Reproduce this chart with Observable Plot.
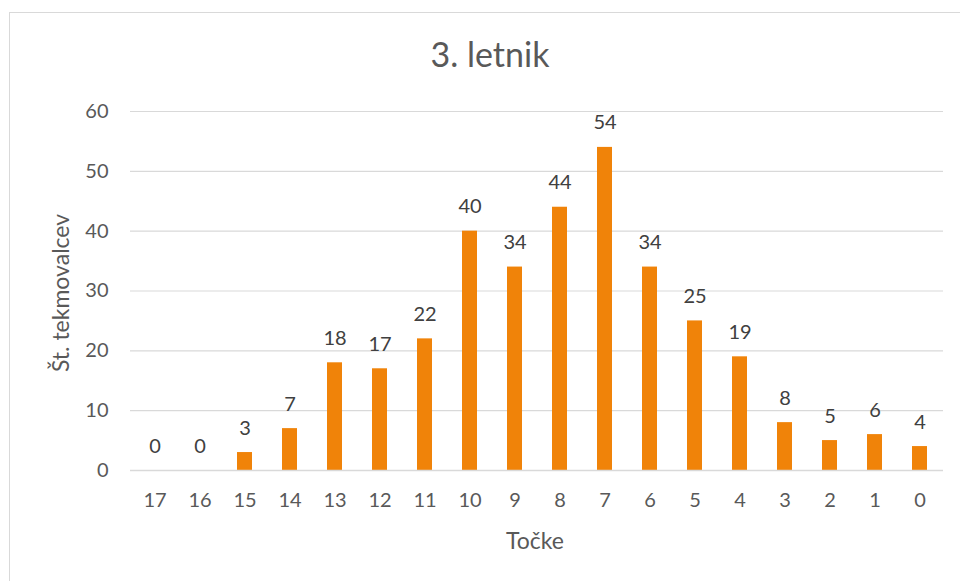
<!DOCTYPE html>
<html>
<head>
<meta charset="utf-8">
<script src="https://cdn.jsdelivr.net/npm/d3@7"></script>
<script src="https://cdn.jsdelivr.net/npm/@observablehq/plot@0.6"></script>
<style>
  html, body { margin: 0; padding: 0; background: #fff; }
  #wrap { position: relative; width: 960px; height: 581px; overflow: hidden; font-family: Lato, "Open Sans", sans-serif; color: #595959; }
  #frame { position: absolute; left: 9px; top: 12px; width: 980px; height: 620px; border: 1.5px solid #d9d9d9; box-sizing: border-box; }
  #title { position: absolute; left: 0; top: 33px; width: 980px; text-align: center; font-size: 34px; color: #595959; }
  #xtitle { position: absolute; left: 0; top: 526px; width: 1070px; text-align: center; font-size: 23px; }
  #ytitle { position: absolute; left: 60px; top: 293px; transform: translate(-50%, -50%) rotate(-90deg); white-space: nowrap; font-size: 23px; }
  #chart { position: absolute; left: 0; top: 0; }
</style>
</head>
<body>
<div id="wrap">
  <div id="frame"></div>
  <div id="chart"></div>
  <div id="title">3. letnik</div>
  <div id="xtitle">Točke</div>
  <div id="ytitle">Št. tekmovalcev</div>
</div>
<script>
const points = ["17","16","15","14","13","12","11","10","9","8","7","6","5","4","3","2","1","0"];
const counts = [0, 0, 3, 7, 18, 17, 22, 40, 34, 44, 54, 34, 25, 19, 8, 5, 6, 4];
const yTicks = [0, 10, 20, 30, 40, 50, 60];

const data = points.map((p, i) => ({points: p, count: counts[i]}));

const plot = Plot.plot({
  width: 960,
  height: 581,
  marginLeft: 130,
  marginRight: 17,
  marginTop: 111,
  marginBottom: 111,
  style: {fontFamily: "Lato, 'Open Sans', sans-serif", fontSize: "20px", color: "#595959", background: "transparent"},
  x: {domain: points, paddingInner: 0.67, paddingOuter: 0.335, label: null},
  y: {domain: [0, 60], label: null},
  marks: [
    Plot.gridY(yTicks, {stroke: "#d9d9d9", strokeOpacity: 1, strokeWidth: 1.2}),
    Plot.axisY(yTicks, {tickSize: 0, tickPadding: 22, label: null, fontSize: 20, fill: "#595959"}),
    Plot.axisX({tickSize: 0, tickPadding: 22, label: null, fontSize: 20, fill: "#595959"}),
    Plot.barY(data, {x: "points", y: "count", fill: "#f08309"}),
    Plot.ruleY([0], {stroke: "#d9d9d9", strokeWidth: 1.5}),
    Plot.text(data, {x: "points", y: "count", text: d => String(d.count), lineAnchor: "bottom", dy: -18, fontSize: 20, fill: "#404040"})
  ]
});
document.getElementById("chart").appendChild(plot);
</script>
</body>
</html>
